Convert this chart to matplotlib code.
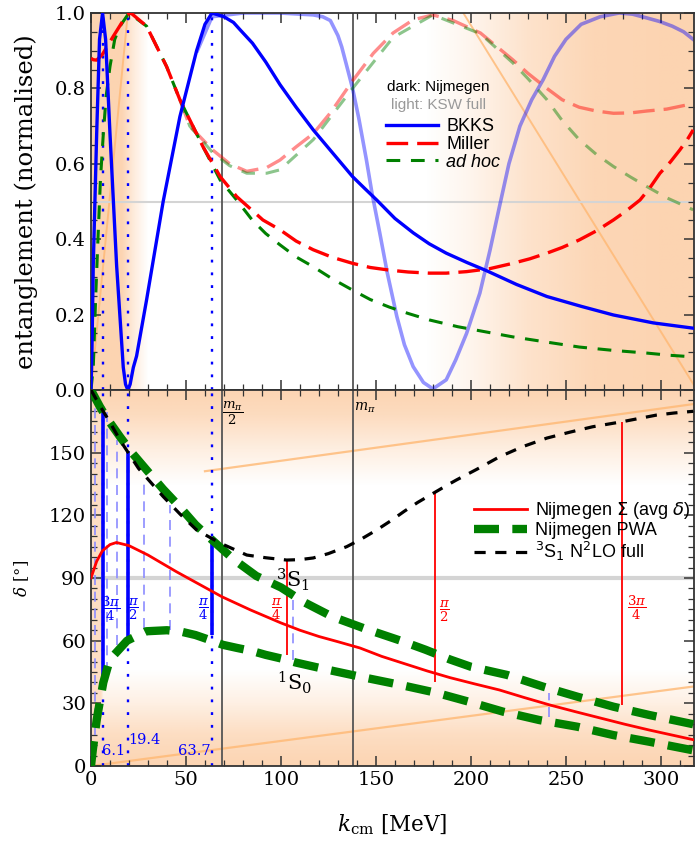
import numpy as np
import matplotlib.pyplot as plt
from matplotlib.font_manager import FontProperties

plt.rcParams['font.family'] = 'DejaVu Serif'
plt.rcParams['mathtext.fontset'] = 'dejavuserif'

K_MAX = 317.4
M_PI = 138.0

# ---- top panel: entanglement (normalised) ----
k_bkks = [0, 0.5, 1.2, 3, 4.5, 6.1, 7.7, 10, 13.5, 17, 18.2, 19.4, 20.6, 22.3, 24, 29.3, 38, 46.8,
          55.6, 60, 63.7, 70, 75, 78.4, 85, 92, 99.5, 108, 117, 127, 137.7, 144, 150.4, 160,
          169.6, 178, 187, 198, 208, 224, 240, 258, 275, 296, 317]
e_bkks = [0, 0.1, 0.33, 0.68, 0.93, 1.0, 0.93, 0.68, 0.33, 0.06, 0.015, 0.0, 0.015, 0.06, 0.09,
          0.24, 0.50, 0.725, 0.90, 0.97, 1.0, 0.99, 0.975, 0.956, 0.92, 0.87, 0.81, 0.75, 0.69,
          0.63, 0.566, 0.535, 0.504, 0.455, 0.417, 0.388, 0.363, 0.338, 0.317, 0.28, 0.248,
          0.222, 0.199, 0.178, 0.164]

k_bkks_ksw = [56, 63.7, 80, 99.5, 117, 122, 126, 128, 130, 132, 134.6, 137.7, 141, 145, 148, 152,
              156, 161, 165, 169.6, 175, 180, 187, 192, 197.7, 204.7, 210, 215, 220, 225.8, 232,
              238, 244, 250, 258, 268, 278, 285, 292.5, 299, 306, 312, 317]
e_bkks_ksw = [0.90, 0.99, 1.0, 1.0, 0.995, 0.99, 0.98, 0.96, 0.94, 0.91, 0.86, 0.80, 0.72, 0.61,
              0.52, 0.417, 0.31, 0.195, 0.12, 0.062, 0.02, 0.003, 0.027, 0.08, 0.15, 0.257, 0.37,
              0.486, 0.60, 0.70, 0.77, 0.823, 0.885, 0.93, 0.97, 0.99, 1.0, 0.997, 0.987, 0.978,
              0.965, 0.95, 0.93]

k_miller = [0, 1.2, 3, 6, 11.6, 18.8, 21, 29.3, 39.8, 46.8, 59, 68, 76.7, 90.5, 99.5, 108, 117,
            127, 137.7, 147, 157, 167, 178, 187, 197.7, 210, 222, 231, 240, 248, 257, 266, 275,
            282, 289, 294, 299.5, 305, 310, 314, 317]
e_miller = [0.88, 0.876, 0.875, 0.89, 0.937, 0.995, 1.0, 0.965, 0.858, 0.77, 0.645, 0.566, 0.513,
            0.451, 0.425, 0.395, 0.372, 0.352, 0.336, 0.325, 0.318, 0.313, 0.31, 0.31, 0.314,
            0.322, 0.336, 0.348, 0.363, 0.378, 0.398, 0.422, 0.451, 0.476, 0.504, 0.535, 0.575,
            0.605, 0.637, 0.665, 0.69]

k_miller_ksw = [46.8, 52, 64, 73, 82, 92.5, 99.5, 108, 117, 126, 137.7, 148.6, 159, 169.6, 180,
                190.7, 205, 222, 230, 240, 248, 257, 266, 275, 284, 292.5, 303, 313.5, 317]
e_miller_ksw = [0.77, 0.70, 0.637, 0.60, 0.58, 0.59, 0.61, 0.645, 0.68, 0.735, 0.82, 0.893, 0.947,
                0.982, 0.995, 0.98, 0.947, 0.876, 0.84, 0.80, 0.77, 0.75, 0.74, 0.734, 0.735,
                0.74, 0.745, 0.756, 0.76]

k_adhoc = [0, 1.2, 2.5, 3.8, 5, 6.5, 8, 10, 12.5, 15.3, 20, 29.3, 39.8, 46.8, 59, 68, 76.7, 85,
           92, 99.5, 108, 117, 127, 137.7, 147, 157, 167, 178, 193, 208, 222, 240, 257, 275,
           292.5, 305, 317]
e_adhoc = [0, 0.06, 0.25, 0.416, 0.56, 0.68, 0.78, 0.858, 0.93, 0.965, 1.0, 0.965, 0.858, 0.77,
           0.645, 0.557, 0.504, 0.45, 0.415, 0.385, 0.353, 0.327, 0.295, 0.265, 0.24, 0.22,
           0.203, 0.186, 0.168, 0.154, 0.141, 0.127, 0.114, 0.105, 0.098, 0.092, 0.088]

k_adhoc_ksw = [46.8, 52, 64, 73, 82, 92.5, 99.5, 117, 137.7, 159, 180, 205, 222, 230, 240, 248,
               257, 266, 275, 284, 292.5, 303, 317]
e_adhoc_ksw = [0.77, 0.70, 0.63, 0.595, 0.575, 0.575, 0.584, 0.664, 0.80, 0.935, 0.995, 0.945,
               0.868, 0.826, 0.77, 0.715, 0.664, 0.625, 0.593, 0.565, 0.54, 0.51, 0.478]

# ---- bottom panel: phase shifts [deg] ----
k_n2lo = [0, 5, 10, 15.3, 25, 38, 47, 55.6, 68, 82, 92, 103, 110, 117, 125, 134.6, 142, 150.4,
          158, 165, 172, 181, 187, 192.5, 203, 215, 227, 240, 252, 264, 279.5, 288, 297.7, 307, 317]
d_n2lo = [180, 172, 164.5, 156, 142.5, 129, 120.5, 113, 106.7, 101, 99.7, 98.6, 98.8, 99.6,
          101.7, 105, 108.5, 113, 117.5, 122, 126.2, 131, 134.2, 137, 142, 148, 152.8, 157,
          159.8, 162.4, 164.8, 166.3, 168, 169, 169.8]

k_3s1 = [0, 4.7, 8, 15.3, 22, 29.3, 38, 46.8, 55, 64, 75, 87, 100, 112, 127, 145, 163, 176, 189,
         200, 219, 238, 256, 275, 294, 317]
d_3s1 = [180, 172, 167, 157.6, 149.5, 141.7, 132.5, 124, 115.5, 108, 99, 91, 85.5, 78.5, 71.5,
         65.5, 60, 55.7, 51, 47.5, 43.6, 38, 33.2, 28.4, 24.4, 20]

k_1s0 = [0, 1, 2, 3, 4.5, 6.5, 9, 12, 19, 29, 40, 48, 55, 62, 69.5, 77, 85, 92, 100, 108, 125,
         142, 162, 182, 200, 217, 236, 256, 275, 294, 317]
d_1s0 = [0, 8, 15, 22, 30, 40, 48, 53, 60, 64.5, 65, 64.2, 62.7, 60.5, 58, 56.5, 55, 53.2, 51.5,
         49.5, 46, 42.7, 39, 35, 30.5, 26, 22, 18.8, 14.8, 11.6, 7.5]

k_sigma = [0, 3, 6, 10, 13.4, 20, 30, 45, 55, 69, 84, 100, 110, 120, 130, 141.6, 153, 165, 177,
           189, 202, 215, 228, 241.6, 255, 268, 281, 294, 318]
d_sigma = [90, 98, 103, 106, 107, 105.5, 101, 93, 88, 81, 74.7, 68.5, 65, 62, 59.5, 56.5, 52.5,
           49, 45.5, 42.3, 39.3, 36.4, 32.8, 29.2, 26, 23, 20, 17.2, 12.4]

# markers
k_mark_nij = [6.1, 19.4, 63.7]
lo_mark_nij = [41, 59, 62.7]
hi_mark_nij = [170, 151, 107]
lab_mark_nij = [r'$\dfrac{3\pi}{4}$', r'$\dfrac{\pi}{2}$', r'$\dfrac{\pi}{4}$']
num_mark_nij = ['6.1', '19.4', '63.7']

k_mark_ksw = [103, 181, 279.6]
lo_mark_ksw = [53, 40, 29]
hi_mark_ksw = [98.6, 131, 164.8]
lab_mark_ksw = [r'$\dfrac{\pi}{4}$', r'$\dfrac{\pi}{2}$', r'$\dfrac{3\pi}{4}$']

k_grid_ksw = [2.3, 8.2, 13.5, 28, 41.6, 106.5, 241]
lo_grid_ksw = [15, 45, 58, 66, 65, 50.7, 23.5]
hi_grid_ksw = [176, 170, 156, 137, 125, 79.5, 35]

ORANGE = np.array([0.98, 0.60, 0.28])
LIGHT_OR = (1.0, 0.72, 0.45)


def shade(ax, alpha, extent):
    img = np.zeros(alpha.shape + (4,))
    img[..., :3] = ORANGE
    img[..., 3] = alpha
    ax.imshow(img, extent=extent, origin='lower', aspect='auto', zorder=0,
              interpolation='bilinear')


fig = plt.figure(figsize=(6.95, 8.44), dpi=100)
ax1 = fig.add_axes([0.1309, 0.5379, 0.8676, 0.4467])
ax2 = fig.add_axes([0.1309, 0.0924, 0.8676, 0.4455])

# background shading
kk = np.linspace(0, K_MAX, 700)
a_top = np.maximum(np.interp(kk, [0, 16, 22, 30], [0.42, 0.42, 0.2, 0.0]),
                   np.interp(kk, [176, 200, 230, 265, 300], [0, 0.1, 0.28, 0.4, 0.42]))
shade(ax1, np.tile(a_top, (2, 1)), [0, K_MAX, 0, 1])

dd = np.linspace(0, 180, 400)
a_band = np.maximum(np.interp(dd, [0, 15, 30, 46], [0.42, 0.33, 0.15, 0.0]),
                    np.interp(dd, [134, 150, 168, 180], [0.0, 0.15, 0.35, 0.42]))
a_strip = np.interp(kk, [0, 5, 7], [0.32, 0.32, 0.0])
shade(ax2, np.maximum(a_band[:, None], a_strip[None, :]), [0, K_MAX, 0, 180])

# faint orange guide lines
ax1.plot([0, 19.4], [0, 1], color=LIGHT_OR, lw=1.4, alpha=0.8, zorder=1)
ax1.plot([196, 319], [1, 0], color=LIGHT_OR, lw=1.4, alpha=0.8, zorder=1)
ax2.plot([0, K_MAX], [0, 0.12 * K_MAX], color=LIGHT_OR, lw=1.6, alpha=0.8, zorder=1)
ax2.plot([60, K_MAX], [180 - 0.125 * (371 - 60), 180 - 0.125 * (371 - K_MAX)],
         color=LIGHT_OR, lw=1.6, alpha=0.8, zorder=1)

for ax in (ax1, ax2):
    ax.axvline(M_PI / 2, color='#555555', lw=1.3, zorder=1.5)
    ax.axvline(M_PI, color='#555555', lw=1.3, zorder=1.5)
    for k in k_mark_nij:
        ax.axvline(k, color='blue', lw=1.7, dashes=(1.2, 4.2), zorder=1.6)
ax1.axhline(0.5, color='#d4d4d4', lw=1.5, zorder=1)
ax2.axhline(90, color='#d4d4d4', lw=3, zorder=1)

# top panel curves
ax1.plot(k_bkks_ksw, e_bkks_ksw, color='blue', alpha=0.42, lw=2.6, zorder=2)
ax1.plot(k_miller_ksw, e_miller_ksw, color='red', alpha=0.45, lw=2.4, dashes=(6.5, 2.7), zorder=2)
ax1.plot(k_adhoc_ksw, e_adhoc_ksw, color='green', alpha=0.45, lw=2.2, dashes=(4.5, 3.5), zorder=2)
l_adhoc, = ax1.plot(k_adhoc, e_adhoc, color='green', lw=2.2, dashes=(4.5, 3.5), zorder=3,
                    label='ad hoc')
l_miller, = ax1.plot(k_miller, e_miller, color='red', lw=2.4, dashes=(6.5, 2.7), zorder=3,
                     label='Miller')
l_bkks, = ax1.plot(k_bkks, e_bkks, color='blue', lw=2.4, zorder=4, label='BKKS')

# bottom panel curves
ax2.vlines(k_grid_ksw, lo_grid_ksw, hi_grid_ksw, colors=[(0.55, 0.55, 1.0)], lw=1.2,
           linestyles=(0, (6, 4)), zorder=1.7)
ax2.vlines(k_mark_nij, lo_mark_nij, hi_mark_nij, colors='blue', lw=2.6, zorder=2)
ax2.vlines(k_mark_ksw, lo_mark_ksw, hi_mark_ksw, colors='red', lw=1.3, zorder=2)
l_sig, = ax2.plot(k_sigma, d_sigma, color='red', lw=2.0, zorder=3,
                  label=r'Nijmegen $\Sigma$ (avg $\delta$)')
ax2.plot(k_1s0, d_1s0, color='green', lw=6, dashes=(3, 1.6), zorder=4)
l_pwa, = ax2.plot(k_3s1, d_3s1, color='green', lw=6, dashes=(3, 1.6), zorder=4,
                  label='Nijmegen PWA')
l_n2lo, = ax2.plot(k_n2lo, d_n2lo, color='black', lw=2.3, dashes=(3.5, 3), zorder=5,
                   label=r'$^3$S$_1$ N$^2$LO full')

# annotations
frac_pos_nij = [(10.5, 75), (22.4, 75), (59, 75)]
for (x, y), lab in zip(frac_pos_nij, lab_mark_nij):
    ax2.text(x, y, lab, color='blue', fontsize=9.5, ha='center', va='center')
frac_pos_ksw = [(97.6, 75), (186, 74), (287, 75.5)]
for (x, y), lab in zip(frac_pos_ksw, lab_mark_ksw):
    ax2.text(x, y, lab, color='red', fontsize=9.5, ha='center', va='center')
ax2.text(5.6, 7, num_mark_nij[0], color='blue', fontsize=10.5, ha='left', va='center')
ax2.text(19.5, 12.5, num_mark_nij[1], color='blue', fontsize=10.5, ha='left', va='center')
ax2.text(63.0, 7, num_mark_nij[2], color='blue', fontsize=10.5, ha='right', va='center')
ax2.text(74.5, 169, r'$\dfrac{m_\pi}{2}$', fontsize=9.5, ha='center', va='center')
ax2.text(144, 171.5, r'$m_\pi$', fontsize=10, ha='center', va='center')
ax2.text(106, 89, r'$^3$S$_1$', fontsize=15, ha='center', va='center')
ax2.text(107, 40, r'$^1$S$_0$', fontsize=15, ha='center', va='center')

sans = FontProperties(family='Liberation Sans', size=13, math_fontfamily='dejavusans')
leg1 = ax1.legend(handles=[l_bkks, l_miller, l_adhoc], loc='upper left',
                  bbox_to_anchor=(0.468, 0.755), frameon=False, prop=sans,
                  handlelength=2.9, handletextpad=0.45, labelspacing=0.05, borderpad=0.2)
leg1.get_texts()[2].set_style('italic')
ax1.text(0.491, 0.804, 'dark: Nijmegen', transform=ax1.transAxes, fontsize=11,
         family='Liberation Sans', va='center', ha='left')
ax1.text(0.497, 0.756, 'light: KSW full', transform=ax1.transAxes, fontsize=11,
         family='Liberation Sans', va='center', ha='left', color='#999999')

sans2 = FontProperties(family='Liberation Sans', size=13, math_fontfamily='dejavusans')
leg2 = ax2.legend(handles=[l_sig, l_pwa, l_n2lo], loc='upper left', bbox_to_anchor=(0.615, 0.74),
                  frameon=False, prop=sans2, handlelength=2.9, handletextpad=0.45,
                  labelspacing=0.05, borderpad=0.2)
leg2.set_zorder(6)

# axes formatting
for ax in (ax1, ax2):
    ax.set_xlim(0, K_MAX)
    ax.set_xticks(np.arange(0, 301, 50))
    ax.set_xticks(np.arange(0, K_MAX, 10), minor=True)
    ax.tick_params(which='both', direction='in', top=True, right=True, labelsize=14,
                   color='#333333')
    ax.tick_params(which='major', length=7, width=1.1)
    ax.tick_params(which='minor', length=4, width=0.9)
    for s in ax.spines.values():
        s.set_color('#333333')
        s.set_linewidth(1.3)

ax1.set_ylim(0, 1)
ax1.set_yticks(np.arange(0, 1.01, 0.2))
ax1.set_yticklabels(['0.0', '0.2', '0.4', '0.6', '0.8', '1.0'])
ax1.set_yticks(np.arange(0, 1.0, 0.05), minor=True)
ax1.tick_params(labelbottom=False)
ax1.set_ylabel('entanglement (normalised)', fontsize=17.5)
ax1.yaxis.set_label_coords(-0.088, 0.5)

ax2.set_ylim(0, 180)
ax2.set_yticks(np.arange(0, 181, 30))
ax2.set_yticklabels(['0', '30', '60', '90', '120', '150', ''])
ax2.set_yticks(np.arange(0, 180, 5), minor=True)
ax2.set_ylabel(r'$\delta$ [°]', fontsize=12)
ax2.yaxis.set_label_coords(-0.1, 0.5)
ax2.set_xlabel(r'$k_{\rm cm}$ [MeV]', fontsize=15.5)
ax2.xaxis.set_label_coords(0.5, -0.125)

fig.savefig('out.png', dpi=100)
